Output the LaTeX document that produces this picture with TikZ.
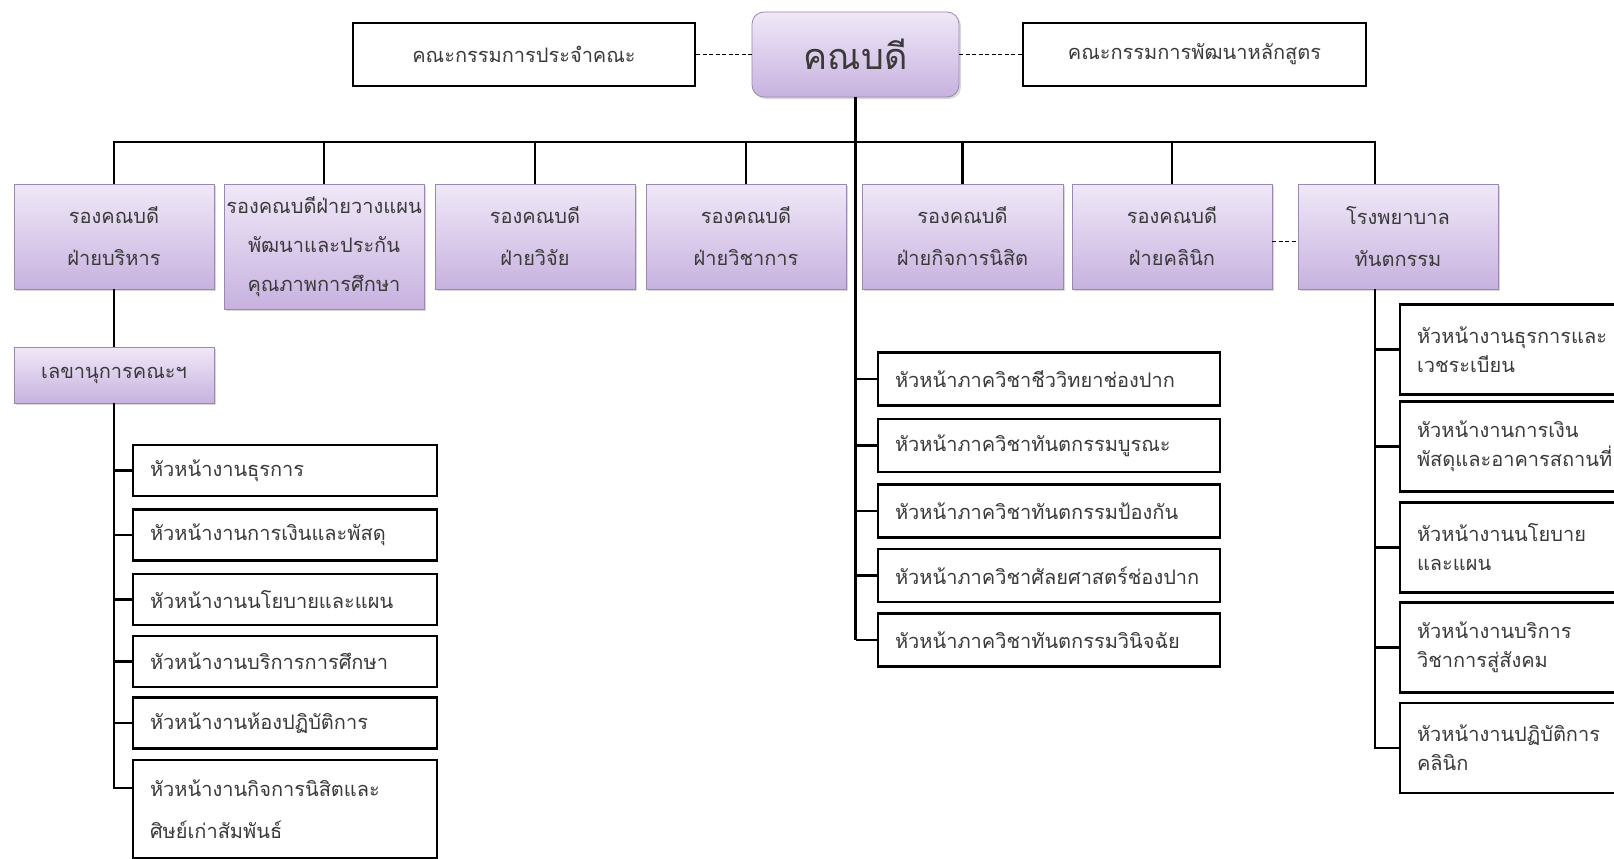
\documentclass[tikz,border=0pt]{standalone}
\usepackage{fontspec}
\newfontfamily\thaifont[Script=Thai]{Loma}
\usetikzlibrary{shadows}

\definecolor{lilactop}{HTML}{F0E8F8}
\definecolor{lilacbot}{HTML}{C7B2DF}
\definecolor{lilacline}{HTML}{9A89AE}
\definecolor{inkgray}{HTML}{3A3A3A}

\begin{document}
\begin{tikzpicture}[x=1pt,y=-1pt,
            every node/.style={text=inkgray,font=\thaifont\fontsize{20}{42}\selectfont},
            conn/.style={line width=2.5pt},
            link/.style={line width=1.3pt,dash pattern=on 4pt off 2.5pt},
            vpbox/.style={draw=lilacline,line width=0.8pt,top color=lilactop,bottom color=lilacbot,
                drop shadow={shadow xshift=2pt,shadow yshift=-2pt,opacity=0.3},
                minimum width=200pt,minimum height=105pt,align=center,inner sep=0pt},
            whitebox/.style={draw=black,line width=2.5pt,fill=white,minimum height=63pt,inner sep=0pt},
            headbox/.style={draw=black,line width=2.5pt,fill=white,align=left,inner xsep=17pt,inner ysep=0pt,
                text width=#1},
            ]
            \fill[white] (0,0) rectangle (1614,859);
            \useasboundingbox (0,0) rectangle (1614,859);

            \node[vpbox,rounded corners=12pt,minimum width=207pt,minimum height=85pt,
                font=\thaifont\fontsize{36}{40}\selectfont] (dean) at (855.5,54.5) {คณบดี};
            \node[whitebox,minimum width=342pt] (council) at (524,54.5) {คณะกรรมการประจำคณะ};
            \node[whitebox,minimum width=343pt] (curric) at (1194.5,54.5) {คณะกรรมการพัฒนาหลักสูตร};

            \node[vpbox] (vpAdmin) at (114,236.5) {รองคณบดี\\ฝ่ายบริหาร};
            \node[vpbox,minimum height=125pt,font=\thaifont\fontsize{20}{39}\selectfont] (vpPlan) at (324,246.5)
                {รองคณบดีฝ่ายวางแผน\\พัฒนาและประกัน\\คุณภาพการศึกษา};
            \node[vpbox] (vpResearch) at (535,236.5) {รองคณบดี\\ฝ่ายวิจัย};
            \node[vpbox] (vpAcad) at (746,236.5) {รองคณบดี\\ฝ่ายวิชาการ};
            \node[vpbox,minimum width=201pt] (vpStudent) at (962.5,236.5) {รองคณบดี\\ฝ่ายกิจการนิสิต};
            \node[vpbox] (vpClinic) at (1172,236.5) {รองคณบดี\\ฝ่ายคลินิก};
            \node[vpbox] (hospital) at (1398,236.5) {โรงพยาบาล\\ทันตกรรม};

            \node[vpbox,minimum height=56pt] (sec) at (114,375) {เลขานุการคณะฯ};

            \node[headbox=270pt,minimum height=51pt] (adm1) at (285,470.5) {หัวหน้างานธุรการ};
            \node[headbox=270pt,minimum height=51pt] (adm2) at (285,535) {หัวหน้างานการเงินและพัสดุ};
            \node[headbox=270pt,minimum height=51pt] (adm3) at (285,599.5) {หัวหน้างานนโยบายและแผน};
            \node[headbox=270pt,minimum height=51pt] (adm4) at (285,661.5) {หัวหน้างานบริการการศึกษา};
            \node[headbox=270pt,minimum height=51pt] (adm5) at (285,723) {หัวหน้างานห้องปฏิบัติการ};
            \node[headbox=270pt,minimum height=98pt] (adm6) at (285,809) {หัวหน้างานกิจการนิสิตและ\\ศิษย์เก่าสัมพันธ์};

            \node[headbox=308pt,minimum height=53pt] (dept1) at (1049,379) {หัวหน้าภาควิชาชีววิทยาช่องปาก};
            \node[headbox=308pt,minimum height=53pt] (dept2) at (1049,445.5) {หัวหน้าภาควิชาทันตกรรมบูรณะ};
            \node[headbox=308pt,minimum height=53pt] (dept3) at (1049,511) {หัวหน้าภาควิชาทันตกรรมป้องกัน};
            \node[headbox=308pt,minimum height=53pt] (dept4) at (1049,575.5) {หัวหน้าภาควิชาศัลยศาสตร์ช่องปาก};
            \node[headbox=308pt,minimum height=53pt] (dept5) at (1049,640) {หัวหน้าภาควิชาทันตกรรมวินิจฉัย};

            \node[headbox=182pt,minimum height=90pt,font=\thaifont\fontsize{20}{29}\selectfont] (hosp1) at (1508,349.5)
                {หัวหน้างานธุรการและ\\เวชระเบียน};
            \node[headbox=182pt,minimum height=90pt,font=\thaifont\fontsize{20}{29}\selectfont] (hosp2) at (1508,446.5)
                {หัวหน้างานการเงิน\\พัสดุและอาคารสถานที่};
            \node[headbox=182pt,minimum height=90pt,font=\thaifont\fontsize{20}{29}\selectfont] (hosp3) at (1508,547.5)
                {หัวหน้างานนโยบาย\\และแผน};
            \node[headbox=182pt,minimum height=90pt,font=\thaifont\fontsize{20}{29}\selectfont] (hosp4) at (1508,647.5)
                {หัวหน้างานบริการ\\วิชาการสู่สังคม};
            \node[headbox=182pt,minimum height=90pt,font=\thaifont\fontsize{20}{29}\selectfont] (hosp5) at (1508,748)
                {หัวหน้างานปฏิบัติการ\\คลินิก};

            \draw[link] (council) -- (dean);
            \draw[link] (dean) -- (curric);
            \draw[link] ([yshift=-5pt]vpClinic.east) -- ([yshift=-5pt]hospital.west);

            \coordinate (bus) at (855,142);
            \coordinate (hospin) at ([xshift=-23pt]hospital.north);
            \coordinate (hospout) at ([xshift=-23pt]hospital.south);
            \coordinate (adm6in) at ([yshift=-29pt]adm6.north west);
            \draw[conn] (vpAdmin.north) |- (bus) -| (hospin);
            \draw[conn] (dean.south) -- (dean.south |- dept5.west);
            \foreach \n in {vpPlan,vpResearch,vpAcad,vpStudent,vpClinic}
                \draw[conn] (\n.north) -- (\n.north |- bus);
            \foreach \n in {dept1,dept2,dept3,dept4,dept5}
                \draw[conn] (\n.west) -- (\n.west -| dean.south);

            \draw[conn] (vpAdmin.south) -- (sec.north);
            \draw[conn] (sec.south) |- (adm6in);
            \foreach \n in {adm1,adm2,adm3,adm4,adm5}
                \draw[conn] (\n.west) -- (\n.west -| sec.south);

            \draw[conn] (hospout) |- (hosp5.west);
            \foreach \n in {hosp1,hosp2,hosp3,hosp4}
                \draw[conn] (\n.west) -- (\n.west -| hospout);
\end{tikzpicture}
\end{document}
